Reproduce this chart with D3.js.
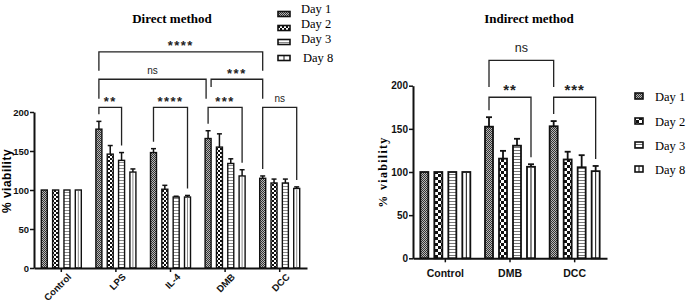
<!DOCTYPE html>
<html>
<head>
<meta charset="utf-8">
<script src="https://cdn.jsdelivr.net/npm/d3@7"></script>
<style>
body { margin: 0; background: #fff; }
svg { display: block; }
</style>
</head>
<body>
<svg id="chart" width="691" height="304"></svg>
<script>
// series + categories
const days = ["Day 1", "Day 2", "Day 3", "Day 8"];
const yTicks = [0, 50, 100, 150, 200];

const directGroups = ["Control", "LPS", "IL-4", "DMB", "DCC"];
const directMeans = [
    [100, 100, 100, 100],
    [178, 146, 138, 123],
    [148, 101, 91, 91],
    [166, 155, 134, 118],
    [115, 109, 109, 102]
];
const directErrs = [
    [0, 0, 0, 0],
    [10, 11, 10, 4],
    [5, 5, 1, 2],
    [10, 17, 6, 8],
    [3, 5, 5, 2]
];
// [label, [group, day], [group, day], bracket level, leg end A, leg end B] (null leg = down to the bar)
const directBrackets = [
    ["****", [1, 0], [4, 0], 277, 253, 253],
    ["ns", [1, 0], [3, 0], 242, 217, 217],
    ["***", [3, 0], [4, 0], 242, 232, 217],
    ["**", [1, 0], [1, 2], 206, null, null],
    ["****", [2, 0], [2, 3], 206, null, null],
    ["***", [3, 0], [3, 3], 206, null, null],
    ["ns", [4, 0], [4, 3], 206, null, null]
];

const indirectGroups = ["Control", "DMB", "DCC"];
const indirectMeans = [
    [100, 100, 100, 100],
    [152.5, 115.5, 130.5, 106],
    [153, 114.5, 105.5, 101]
];
const indirectErrs = [
    [0, 0, 0, 0],
    [11, 9, 8, 3],
    [6, 9, 14, 6]
];
const indirectBrackets = [
    ["ns", [1, 0], [2, 0], 229.4, 198.5, 198.5],
    ["**", [1, 0], [1, 3], 186.6, null, null],
    ["***", [2, 0], [2, 3], 186.6, null, null]
];

const serif = "'Liberation Serif', 'DejaVu Serif', serif";
const sans = "'Liberation Sans', Arial, sans-serif";

const svg = d3.select("#chart");
const defs = svg.append("defs");

function makePatterns(prefix, cell, stripe, stripeColor){
    // Day 1 : fine grey dither
    let p1 = defs.append("pattern").attr("id", prefix + "0")
        .attr("patternUnits", "userSpaceOnUse").attr("width", 2).attr("height", 2);
    p1.append("rect").attr("width", 2).attr("height", 2).attr("fill", "#b8b8b8");
    p1.append("rect").attr("width", 1).attr("height", 1).attr("fill", "#333");
    p1.append("rect").attr("x", 1).attr("y", 1).attr("width", 1).attr("height", 1).attr("fill", "#333");

    // Day 2 : checkerboard
    let p2 = defs.append("pattern").attr("id", prefix + "1")
        .attr("patternUnits", "userSpaceOnUse").attr("width", cell * 2).attr("height", cell * 2);
    p2.append("rect").attr("width", cell * 2).attr("height", cell * 2).attr("fill", "#fff");
    p2.append("rect").attr("width", cell).attr("height", cell).attr("fill", "#111");
    p2.append("rect").attr("x", cell).attr("y", cell).attr("width", cell).attr("height", cell).attr("fill", "#111");

    // Day 3 : horizontal stripes
    let p3 = defs.append("pattern").attr("id", prefix + "2")
        .attr("patternUnits", "userSpaceOnUse").attr("width", 4).attr("height", stripe);
    p3.append("rect").attr("width", 4).attr("height", stripe).attr("fill", "#fff");
    p3.append("rect").attr("width", 4).attr("height", 1).attr("fill", stripeColor);

    // Day 8 : plain white (centre line drawn on the bar)
    let p4 = defs.append("pattern").attr("id", prefix + "3")
        .attr("patternUnits", "userSpaceOnUse").attr("width", 4).attr("height", 4);
    p4.append("rect").attr("width", 4).attr("height", 4).attr("fill", "#fff");
}
makePatterns("dp", 2, 3, "#8a8a8a");
makePatterns("ip", 3, 3, "#777");

function drawPanel(cfg){
    let g = svg.append("g");
    let x0 = d3.scaleBand().domain(cfg.groups).range(cfg.xRange)
        .paddingInner(cfg.groupPad).paddingOuter(cfg.groupPad / 2);
    let x1 = d3.scaleBand().domain(days).range([0, x0.bandwidth()])
        .paddingInner(cfg.barPad).paddingOuter(0);
    let y = d3.scaleLinear().domain([0, 200]).range(cfg.yRange);
    let bw = x1.bandwidth();

    let rows = [];
    cfg.groups.forEach(function(grp, gi){
        days.forEach(function(day, di){
            rows.push({group: grp, gi: gi, day: day, di: di, v: cfg.means[gi][di], e: cfg.errs[gi][di]});
        });
    });

    // error bars (behind bars)
    let eb = g.append("g").attr("stroke", "#111").attr("stroke-width", cfg.errW);
    rows.filter(function(d){ return d.e > 0; }).forEach(function(d){
        let cx = x0(d.group) + x1(d.day) + bw / 2;
        eb.append("line").attr("x1", cx).attr("x2", cx).attr("y1", y(d.v)).attr("y2", y(d.v + d.e));
        eb.append("line").attr("x1", cx - cfg.capW / 2).attr("x2", cx + cfg.capW / 2)
            .attr("y1", y(d.v + d.e)).attr("y2", y(d.v + d.e));
    });

    // bars
    g.selectAll("rect.bar").data(rows).enter().append("rect")
        .attr("class", "bar")
        .attr("x", function(d){ return x0(d.group) + x1(d.day); })
        .attr("y", function(d){ return y(d.v); })
        .attr("width", bw)
        .attr("height", function(d){ return y(0) - y(d.v); })
        .attr("fill", function(d){ return "url(#" + cfg.pat + d.di + ")"; })
        .attr("stroke", "#111")
        .attr("stroke-width", cfg.barStroke);

    // centre line for Day 8
    g.selectAll("line.d8").data(rows.filter(function(d){ return d.di == 3; })).enter().append("line")
        .attr("class", "d8")
        .attr("x1", function(d){ return x0(d.group) + x1(d.day) + bw / 2; })
        .attr("x2", function(d){ return x0(d.group) + x1(d.day) + bw / 2; })
        .attr("y1", function(d){ return y(d.v) + 1; })
        .attr("y2", y(0))
        .attr("stroke", cfg.d8Color).attr("stroke-width", 1);

    // axes
    let yAxis = d3.axisLeft(y).tickValues(yTicks).tickSize(4).tickSizeOuter(0).tickPadding(1);
    let ya = g.append("g").attr("transform", "translate(" + cfg.xRange[0] + ",0)").call(yAxis);
    let xAxis = d3.axisBottom(x0).tickSize(4).tickSizeOuter(0).tickPadding(cfg.xPad);
    let xa = g.append("g").attr("transform", "translate(0," + y(0) + ")").call(xAxis);
    [ya, xa].forEach(function(a){
        a.select(".domain").attr("stroke", "#111").attr("stroke-width", 2);
        a.selectAll(".tick line").attr("stroke", "#111").attr("stroke-width", 1.5);
        a.selectAll(".tick text").attr("fill", "#111")
            .style("font-family", sans).style("font-weight", "bold")
            .style("font-size", cfg.tickSize + "px");
    });
    xa.selectAll(".tick text").style("font-size", cfg.xTickSize + "px");
    if(cfg.rotate){
        xa.selectAll(".tick text")
            .attr("text-anchor", "end")
            .attr("dy", "0.35em")
            .attr("transform", "translate(4,3) rotate(-45)");
    }

    // significance brackets
    let bk = g.append("g").attr("fill", "none").attr("stroke", "#222").attr("stroke-width", 1.3);
    cfg.brackets.forEach(function(b, i){
        let a = b[1], c = b[2];
        let off = cfg.offsets[i] || [0, 0];
        let xa_ = x0(cfg.groups[a[0]]) + x1(days[a[1]]) + bw / 2 + off[0];
        let xb_ = x0(cfg.groups[c[0]]) + x1(days[c[1]]) + bw / 2 + off[1];
        let yl = y(b[3]);
        let ya_ = b[4] == null ? y(cfg.means[a[0]][a[1]] + cfg.errs[a[0]][a[1]]) - 7 : y(b[4]);
        let yb_ = b[5] == null ? y(cfg.means[c[0]][c[1]] + cfg.errs[c[0]][c[1]]) - 7 : y(b[5]);
        bk.append("path").attr("d", "M" + xa_ + "," + ya_ + "V" + yl + "H" + xb_ + "V" + yb_);
        let isNs = b[0] == "ns";
        g.append("text")
            .attr("x", (xa_ + xb_) / 2)
            .attr("y", yl - (isNs ? cfg.nsLift : cfg.starLift))
            .attr("text-anchor", "middle")
            .style("font-family", sans)
            .style("font-weight", isNs ? "normal" : "bold")
            .style("font-size", (isNs ? cfg.nsSize : cfg.starSize) + "px")
            .style("letter-spacing", isNs ? "0px" : cfg.starSpace + "px")
            .attr("fill", "#222")
            .text(b[0]);
    });

    // title
    g.append("text").attr("x", cfg.titleX).attr("y", 23).attr("text-anchor", "middle")
        .attr("font-family", serif)
        .attr("font-weight", "bold").attr("font-size", 13).text(cfg.title);

    // y label
    g.append("text")
        .attr("transform", "translate(" + cfg.ylabX + "," + cfg.ylabY + ") rotate(-90)")
        .attr("text-anchor", "middle")
        .attr("font-family", cfg.ylabFont).attr("font-weight", "bold")
        .attr("font-size", cfg.ylabSize)
        .attr("letter-spacing", cfg.ylabSpace)
        .text("% viability");

    // legend
    let lg = g.append("g");
    days.forEach(function(day, di){
        let row = cfg.legendRows[di];
        lg.append("rect").attr("x", cfg.legendX).attr("y", row[0] - cfg.swH / 2)
            .attr("width", cfg.swW).attr("height", cfg.swH)
            .attr("fill", "url(#" + cfg.pat + di + ")")
            .attr("stroke", "#111").attr("stroke-width", 1.6);
        if(di == 3){
            lg.append("line").attr("x1", cfg.legendX + cfg.swW / 2).attr("x2", cfg.legendX + cfg.swW / 2)
                .attr("y1", row[0] - cfg.swH / 2).attr("y2", row[0] + cfg.swH / 2)
                .attr("stroke", "#111").attr("stroke-width", 1);
        }
        lg.append("text").attr("x", cfg.legendTextX + (row[2] || 0)).attr("y", row[1])
            .attr("font-family", serif)
            .attr("font-size", cfg.legendSize)
            .text(day);
    });
}

drawPanel({
    groups: directGroups, means: directMeans, errs: directErrs, brackets: directBrackets,
    offsets: [[0, 0], [0, -2], [3, 0]],
    xRange: [34, 307], yRange: [268, 112], groupPad: 0.267, barPad: 0.47,
    pat: "dp", barStroke: 1.4, errW: 1.5, capW: 5, d8Color: "#888",
    tickSize: 9.5, xTickSize: 9.5, xPad: 2, rotate: true,
    starLift: 1.5, nsLift: 5.5, starSize: 13, nsSize: 10, starSpace: 1.5,
    title: "Direct method", titleX: 172,
    ylabX: 11, ylabY: 181, ylabFont: sans, ylabSize: 12, ylabSpace: 0.5,
    legendX: 278, legendTextX: 301, swW: 12, swH: 5, legendSize: 12.5,
    legendRows: [[14, 12.5], [28, 28], [42, 43], [58, 61.5, 2]]
});

drawPanel({
    groups: indirectGroups, means: indirectMeans, errs: indirectErrs, brackets: indirectBrackets,
    offsets: [],
    xRange: [413, 607], yRange: [258.3, 85.7], groupPad: 0.227, barPad: 0.4286,
    pat: "ip", barStroke: 1.8, errW: 1.8, capW: 6, d8Color: "#111",
    tickSize: 10, xTickSize: 10.5, xPad: 7, rotate: false,
    starLift: 2.5, nsLift: 8.5, starSize: 15, nsSize: 12.5, starSpace: 1,
    title: "Indirect method", titleX: 529,
    ylabX: 387, ylabY: 172, ylabFont: serif, ylabSize: 12, ylabSpace: 1.3,
    legendX: 635, legendTextX: 655, swW: 8, swH: 6, legendSize: 12.5,
    legendRows: [[96, 100.5], [121, 125.5], [145, 149.5], [169, 173.5]]
});
</script>
</body>
</html>
